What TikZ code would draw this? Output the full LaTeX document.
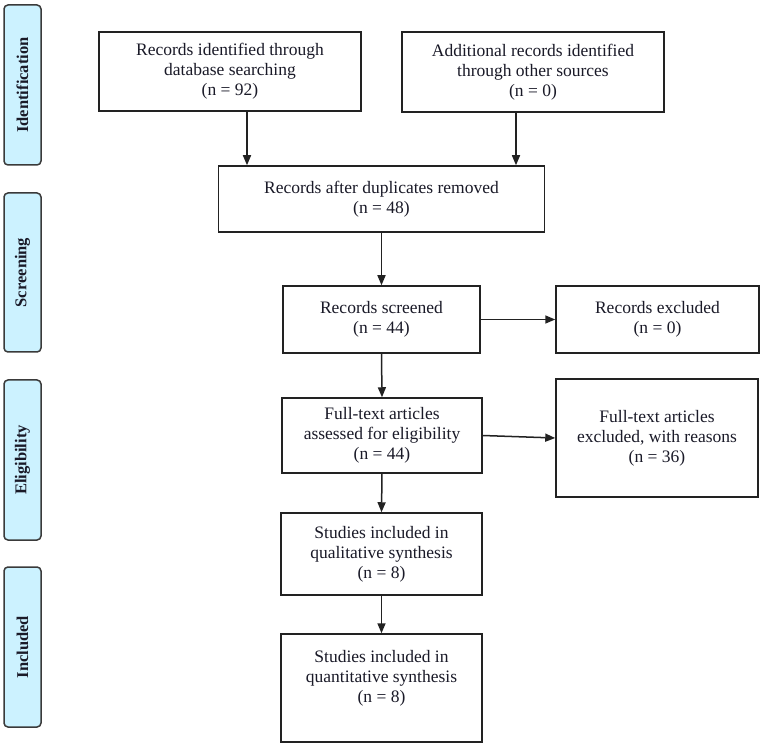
\documentclass[tikz,border=0pt]{standalone}
\usepackage{fontspec}
\setmainfont{Liberation Serif}
\usetikzlibrary{arrows.meta}
\definecolor{stagefill}{HTML}{CCF2FF}
\definecolor{stageline}{HTML}{3A3A3A}
\definecolor{boxline}{HTML}{222222}
\definecolor{txt}{HTML}{1A1A28}
\begin{document}
\begin{tikzpicture}[x=1pt,y=-1pt,
  box/.style={draw=boxline, line width=1.5pt, fill=white, inner sep=0pt, align=center,
    text=txt, font=\fontsize{17.5}{20}\selectfont},
  stage/.style={draw=stageline, line width=1.5pt, fill=stagefill, rounded corners=4pt,
    rotate=90, inner sep=0pt, minimum height=37pt, text=txt,
    font=\fontsize{16.5}{18}\selectfont\bfseries},
  arr/.style={draw=boxline, line width=1.5pt, -{Triangle[length=10pt,width=8pt]}}]
\useasboundingbox (0,0) rectangle (764,746);

% stage labels
\node[stage, minimum width=160pt] (s1) at (22.5,85) {Identification};
\node[stage, minimum width=159pt] (s2) at (22.5,272.5) {Screening};
\node[stage, minimum width=160pt] (s3) at (22.5,460) {Eligibility};
\node[stage, minimum width=160pt] (s4) at (22.5,647) {Included};

% boxes
\node[box, minimum width=262pt, minimum height=79pt] (b1) at (230,71.5)
  {Records identified through\\database searching\\(n = 92)};
\node[box, minimum width=262pt, minimum height=80pt] (b2) at (533,72)
  {Additional records identified\\through other sources\\(n = 0)};
\node[box, minimum width=326pt, minimum height=66pt] (b3) at (381.5,199)
  {Records after duplicates removed\\(n = 48)};
\node[box, minimum width=197pt, minimum height=67pt] (b4) at (381.5,319.5)
  {Records screened\\(n = 44)};
\node[box, minimum width=203pt, minimum height=67pt] (b5) at (657.5,319.5)
  {Records excluded\\(n = 0)};
\node[box, minimum width=200pt, minimum height=75pt] (b6) at (382,435.5)
  {Full-text articles\\assessed for eligibility\\(n = 44)};
\node[box, minimum width=202pt, minimum height=118pt] (b7) at (657,438)
  {Full-text articles\\excluded, with reasons\\(n = 36)};
\node[box, minimum width=201pt, minimum height=82pt] (b8) at (381.5,554)
  {Studies included in\\qualitative synthesis\\(n = 8)};
\node[box, minimum width=201pt, minimum height=108pt] (b9) at (381.5,688)
  {Studies included in\\quantitative synthesis\\(n = 8)\\[3pt]\mbox{}};

% connectors
\draw[arr] ([xshift=17pt]b1.south) -- ([xshift=17pt]b1.south |- b3.north);
\draw[arr] ([xshift=-17pt]b2.south) -- ([xshift=-17pt]b2.south |- b3.north);
\draw[arr] (b3.south) -- (b4.north);
\draw[arr] (b4.east) -- (b5.west);
\draw[arr] (b4.south) -- (b6.north);
\draw[arr] (b6.east) -- (b7.west);
\draw[arr] (b6.south) -- (b8.north);
\draw[arr] (b8.south) -- (b9.north);
\end{tikzpicture}
\end{document}
